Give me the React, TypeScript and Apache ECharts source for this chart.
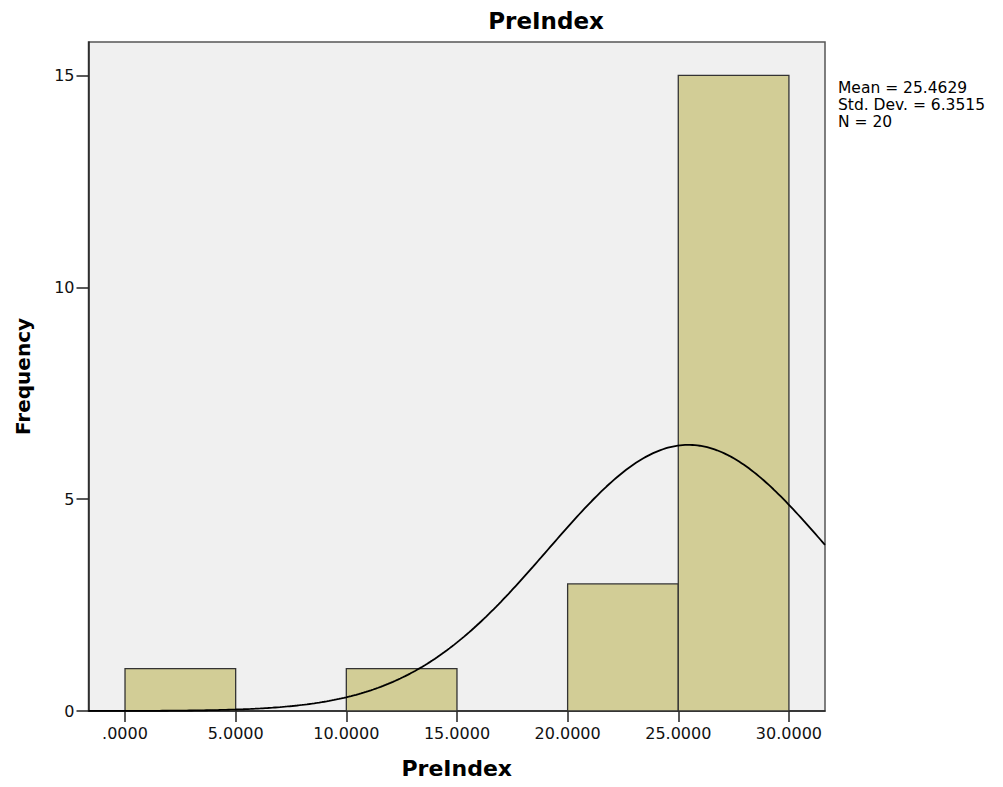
import React, { useEffect, useRef } from "react";
import * as echarts from "echarts";

// Histogram bins: [start, end, frequency]
const binStarts = [0, 5, 10, 15, 20, 25];
const binEnds = [5, 10, 15, 20, 25, 30];
const frequencies = [1, 0, 1, 0, 3, 15];

const xTicks = [0, 5, 10, 15, 20, 25, 30];
const yTicks = [0, 5, 10, 15];

const meanValue = 25.4629;
const stdDev = 6.3515;
const nCount = 20;
const binWidth = 5;

const xMin = -1.65;
const xMax = 31.63;
const yMax = 15.79;

const statsLines = [
  "Mean = 25.4629",
  "Std. Dev. = 6.3515",
  "N = 20",
];

function normalCurve(): number[][] {
  const pts: number[][] = [];
  const steps = 300;
  for (let i = 0; i <= steps; i++) {
    const x = xMin + ((xMax - xMin) * i) / steps;
    const z = (x - meanValue) / stdDev;
    const y =
      (nCount * binWidth) / (stdDev * Math.sqrt(2 * Math.PI)) *
      Math.exp(-0.5 * z * z);
    pts.push([x, y]);
  }
  return pts;
}

export default function App() {
  const ref = useRef<HTMLDivElement>(null);

  useEffect(() => {
    document.body.style.margin = "0";
    const chart = echarts.init(ref.current!, null, { renderer: "svg" });
    const font = "DejaVu Sans";
    const histData = binStarts
      .map((s, i) => [s, binEnds[i], frequencies[i]])
      .filter((d) => d[2] > 0);

    chart.setOption({
      animation: false,
      backgroundColor: "#ffffff",
      grid: {
        left: 88.5,
        top: 42,
        right: 178,
        bottom: 76,
        show: true,
        backgroundColor: "#F0F0F0",
        borderColor: "#555555",
        borderWidth: 1.5,
      },
      graphic: [
        {
          type: "text",
          x: 546,
          y: 21,
          style: {
            text: "PreIndex",
            font: `bold 23px "${font}"`,
            fill: "#000",
            align: "center",
            verticalAlign: "middle",
          },
        },
        {
          type: "text",
          x: 838,
          y: 79,
          style: {
            text: statsLines.join("\n"),
            font: `15.5px "${font}"`,
            lineHeight: 17,
            fill: "#000",
            align: "left",
            verticalAlign: "top",
          },
        },
      ],
      xAxis: {
        type: "value",
        min: xMin,
        max: xMax,
        name: "PreIndex",
        nameLocation: "middle",
        nameGap: 46,
        nameTextStyle: {
          fontFamily: font,
          fontWeight: "bold",
          fontSize: 22,
          color: "#000",
        },
        splitLine: { show: false },
        axisLine: { show: true, onZero: false, lineStyle: { color: "#222", width: 1.5 } },
        axisTick: {
          show: true,
          length: 11,
          customValues: xTicks,
          lineStyle: { color: "#222", width: 1.5 },
        },
        axisLabel: {
          customValues: xTicks,
          margin: 14,
          fontFamily: font,
          fontSize: 16,
          color: "#111",
          formatter: (v: number) => (v === 0 ? ".0000" : v.toFixed(4)),
        },
      },
      yAxis: {
        type: "value",
        min: 0,
        max: yMax,
        name: "Frequency",
        nameLocation: "middle",
        nameGap: 56,
        nameTextStyle: {
          fontFamily: font,
          fontWeight: "bold",
          fontSize: 20,
          color: "#000",
        },
        splitLine: { show: false },
        axisLine: { show: true, onZero: false, lineStyle: { color: "#222", width: 1.5 } },
        axisTick: {
          show: true,
          length: 12,
          customValues: yTicks,
          lineStyle: { color: "#222", width: 1.5 },
        },
        axisLabel: {
          customValues: yTicks,
          margin: 14,
          fontFamily: font,
          fontSize: 16,
          color: "#111",
        },
      },
      series: [
        {
          type: "custom",
          data: histData,
          encode: { x: [0, 1], y: 2 },
          renderItem: (params: any, api: any) => {
            const p0 = api.coord([api.value(0), 0]);
            const p1 = api.coord([api.value(1), api.value(2)]);
            return {
              type: "rect",
              shape: {
                x: p0[0],
                y: p1[1],
                width: p1[0] - p0[0],
                height: p0[1] - p1[1],
              },
              style: {
                fill: "#D2CD96",
                stroke: "#333333",
                lineWidth: 1.3,
              },
            };
          },
          z: 2,
        },
        {
          type: "line",
          data: normalCurve(),
          showSymbol: false,
          smooth: false,
          lineStyle: { color: "#000", width: 1.8 },
          z: 3,
          silent: true,
        },
      ],
    });
    return () => chart.dispose();
  }, []);

  return <div ref={ref} style={{ width: 1003, height: 787 }} />;
}
